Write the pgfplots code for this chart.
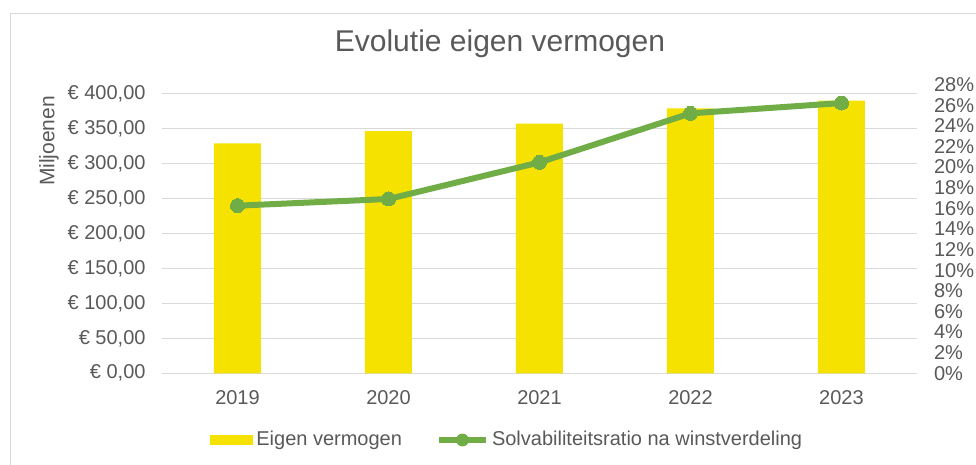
\documentclass[border=0pt]{standalone}
\usepackage{fontspec}
\setmainfont{Liberation Sans}
\usepackage{pgfplots}
\pgfplotsset{compat=1.18}

\definecolor{barY}{RGB}{245,226,0}
\definecolor{lineG}{RGB}{112,173,71}
\definecolor{txt}{RGB}{89,89,89}
\definecolor{gridc}{RGB}{217,217,217}

\begin{document}
\begin{tikzpicture}[x=1pt,y=1pt]
\path[use as bounding box] (0,0) rectangle (488,232.5);
\draw[gridc, line width=0.75pt] (5.2,-1) -- (5.2,225.8) -- (489,225.8);
\node[txt, font=\fontsize{15}{18}\selectfont] at (250,210.5) {Evolutie eigen vermogen};
\node[txt, rotate=90, font=\fontsize{10.5}{12}\selectfont] at (24.5,162) {Miljoenen};

% bars, left axis
\begin{axis}[
  at={(81pt,45.85pt)}, anchor=south west,
  width=377.5pt, height=144.4pt, scale only axis,
  xmin=-0.5, xmax=4.5, ymin=0, ymax=412.6,
  axis line style={draw=none}, tick style={draw=none},
  xtick={0,1,2,3,4}, xticklabels={2019,2020,2021,2022,2023},
  ytick={0,50,...,400},
  yticklabels={{€ 0,00},{€ 50,00},{€ 100,00},{€ 150,00},{€ 200,00},{€ 250,00},{€ 300,00},{€ 350,00},{€ 400,00}},
  ymajorgrids, grid style={gridc, line width=0.75pt},
  ticklabel style={txt, font=\fontsize{10}{12}\selectfont},
  yticklabel style={xshift=-4.7pt},
  xticklabel style={yshift=-5pt},
  legend columns=2,
  legend style={at={(0.458,-0.231)}, anchor=center, draw=none, fill=none,
    font=\fontsize{10}{12}\selectfont, text=txt,
    nodes={inner sep=1.5pt},
    /tikz/every even column/.append style={column sep=15.5pt}},
]
\addplot[ybar, bar width=23.5pt, fill=barY, draw=none,
  legend image code/.code={\fill[barY] (0pt,-2.5pt) rectangle (21.5pt,2.5pt);}]
  coordinates {(0,328.6) (1,346) (2,356.6) (3,378.6) (4,389.4)};
\addlegendentry{Eigen vermogen}
\addlegendimage{legend image code/.code={
  \draw[lineG, line width=3pt] (0pt,0pt) -- (23.5pt,0pt);
  \fill[lineG] (11.75pt,0pt) circle (3pt);}}
\addlegendentry{Solvabiliteitsratio na winstverdeling}
\end{axis}

% ratio, right axis
\begin{axis}[
  at={(81pt,45.85pt)}, anchor=south west,
  width=377.5pt, height=144.4pt, scale only axis,
  xmin=-0.5, xmax=4.5, ymin=0, ymax=28,
  axis x line=none, axis y line*=right,
  axis line style={draw=none}, tick style={draw=none},
  ytick={0,2,...,28},
  yticklabels={0\%,2\%,4\%,6\%,8\%,10\%,12\%,14\%,16\%,18\%,20\%,22\%,24\%,26\%,28\%},
  ticklabel style={txt, font=\fontsize{10}{12}\selectfont},
  yticklabel style={xshift=5pt},
]
\addplot[lineG, line width=3pt, mark=*, mark size=3.5pt,
  mark options={fill=lineG, draw=lineG, line width=0pt}]
  coordinates {(0,16.25) (1,16.9) (2,20.45) (3,25.2) (4,26.2)};
\end{axis}
\end{tikzpicture}
\end{document}
